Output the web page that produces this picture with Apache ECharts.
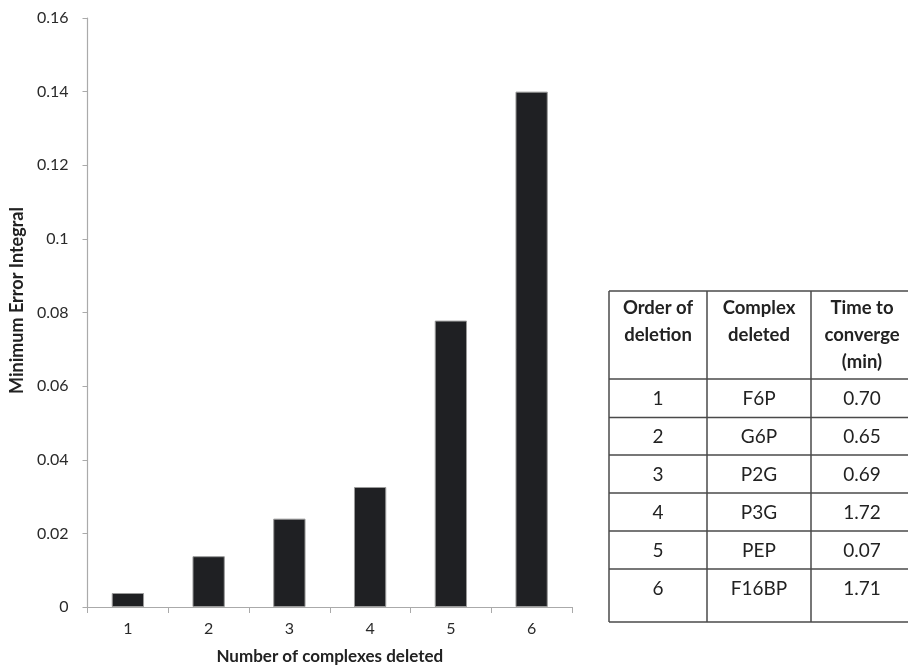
<!DOCTYPE html>
<html>
<head>
<meta charset="utf-8">
<script src="https://cdn.jsdelivr.net/npm/echarts@6/dist/echarts.min.js"></script>
<style>
html,body{margin:0;padding:0;background:#fff;}
#chart{width:908px;height:670px;}
</style>
</head>
<body>
<div id="chart"></div>
<script>
// ---- data ----
var categories = ['1', '2', '3', '4', '5', '6'];
var errorValues = [0.0038, 0.0138, 0.024, 0.0326, 0.0778, 0.14];
var yTicks = [0, 0.02, 0.04, 0.06, 0.08, 0.1, 0.12, 0.14, 0.16];

var tableHeader = [['Order of', 'deletion'], ['Complex', 'deleted'], ['Time to', 'converge', '(min)']];
var tableOrder = ['1', '2', '3', '4', '5', '6'];
var tableComplex = ['F6P', 'G6P', 'P2G', 'P3G', 'PEP', 'F16BP'];
var tableTime = ['0.70', '0.65', '0.69', '1.72', '0.07', '1.71'];

// ---- table layout ----
var FONT = 'Lato, "Open Sans", sans-serif';
var colX = [609, 707, 811, 913];
var rowY = [291, 379, 417.5, 455, 493, 531, 569, 622];
var lineColor = '#4a4a4a';
var graphics = [];
rowY.forEach(function (y) {
  graphics.push({ type: 'line', shape: { x1: colX[0], y1: y, x2: colX[3], y2: y },
    style: { stroke: lineColor, lineWidth: 1.5 } });
});
colX.forEach(function (x) {
  graphics.push({ type: 'line', shape: { x1: x, y1: rowY[0], x2: x, y2: rowY[rowY.length - 1] },
    style: { stroke: lineColor, lineWidth: 1.5 } });
});
tableHeader.forEach(function (lines, c) {
  var cx = (colX[c] + colX[c + 1]) / 2;
  lines.forEach(function (t, i) {
    graphics.push({ type: 'text', x: cx, y: 308 + i * 26.8,
      style: { text: t, font: 'bold 18.5px ' + FONT, fill: '#222', align: 'center', verticalAlign: 'middle' } });
  });
});
var cols = [tableOrder, tableComplex, tableTime];
cols.forEach(function (col, c) {
  var cx = (colX[c] + colX[c + 1]) / 2;
  col.forEach(function (t, r) {
    var cy = r < 5 ? (rowY[r + 1] + rowY[r + 2]) / 2 + 1 : rowY[6] + 20;
    graphics.push({ type: 'text', x: cx, y: cy,
      style: { text: t, font: '19px ' + FONT, fill: '#222', align: 'center', verticalAlign: 'middle' } });
  });
});

var chart = echarts.init(document.getElementById('chart'));
chart.setOption({
  animation: false,
  backgroundColor: '#fff',
  grid: { left: 84, right: 336, top: 18, bottom: 59.5, containLabel: false },
  xAxis: {
    type: 'category',
    data: categories,
    name: 'Number of complexes deleted',
    nameLocation: 'middle',
    nameGap: 41,
    nameTextStyle: { fontFamily: FONT, fontWeight: 'bold', fontSize: 17, color: '#222' },
    axisLine: { lineStyle: { color: '#aaaaaa', width: 1.2 } },
    axisTick: { show: true, alignWithLabel: false, length: 6, lineStyle: { color: '#aaaaaa' } },
    axisLabel: { fontFamily: FONT, fontSize: 16, color: '#2a2a2a', margin: 14 },
    splitLine: { show: false }
  },
  yAxis: {
    type: 'value',
    min: 0,
    max: 0.16,
    interval: 0.02,
    name: 'Minimum Error Integral',
    nameLocation: 'middle',
    nameGap: 53,
    nameTextStyle: { fontFamily: FONT, fontWeight: 'bold', fontSize: 18, color: '#222', padding: [0, 0, 0, 24] },
    axisLine: { show: true, lineStyle: { color: '#aaaaaa', width: 1.2 } },
    axisTick: { show: true, length: 5, lineStyle: { color: '#aaaaaa' } },
    axisLabel: { fontFamily: FONT, fontSize: 16, color: '#2a2a2a', margin: 19,
      formatter: function (v) { return String(+v.toFixed(2)); } },
    splitLine: { show: false }
  },
  series: [{
    type: 'bar',
    data: errorValues,
    barWidth: '40%',
    itemStyle: { color: '#1f2023', borderColor: '#9a9a9a', borderWidth: 1 }
  }],
  graphic: graphics
});
</script>
</body>
</html>
